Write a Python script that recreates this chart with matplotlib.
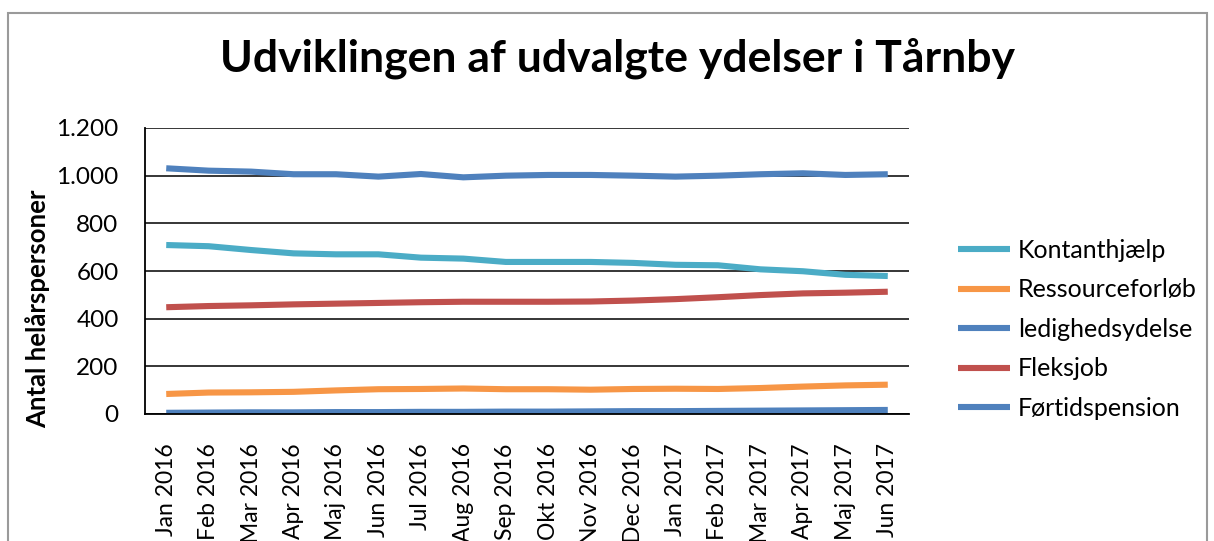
import matplotlib
matplotlib.use("Agg")
import matplotlib.pyplot as plt
from matplotlib.ticker import FuncFormatter, FixedLocator
from matplotlib.patches import Rectangle

plt.rcParams['font.family'] = ['Lato', 'DejaVu Sans']

months = ["Jan 2016", "Feb 2016", "Mar 2016", "Apr 2016", "Maj 2016", "Jun 2016",
          "Jul 2016", "Aug 2016", "Sep 2016", "Okt 2016", "Nov 2016", "Dec 2016",
          "Jan 2017", "Feb 2017", "Mar 2017", "Apr 2017", "Maj 2017", "Jun 2017"]

kontanthjaelp = [709, 704, 688, 674, 670, 670, 656, 652, 638, 638, 638, 634,
                 626, 624, 607, 599, 584, 579]
ressourceforloeb = [84, 90, 91, 93, 99, 104, 105, 107, 104, 104, 102, 105,
                    106, 105, 109, 115, 120, 123]
ledighedsydelse = [5, 6, 7, 7, 8, 8, 9, 9, 10, 10, 11, 12, 12, 13, 14, 15, 16, 17]
fleksjob = [448, 453, 456, 460, 463, 466, 469, 471, 471, 471, 472, 476,
            482, 490, 499, 506, 509, 513]
foertidspension = [1031, 1021, 1017, 1006, 1006, 996, 1007, 993, 1000, 1003,
                   1003, 1000, 996, 1000, 1006, 1010, 1003, 1006]

series = [
    ("Kontanthjælp", kontanthjaelp, "#4BACC6"),
    ("Ressourceforløb", ressourceforloeb, "#F79646"),
    ("ledighedsydelse", ledighedsydelse, "#4F81BD"),
    ("Fleksjob", fleksjob, "#C0504D"),
    ("Førtidspension", foertidspension, "#4F81BD"),
]

W, H = 1214, 541
fig = plt.figure(figsize=(W / 100, H / 100), dpi=100)

# outer chart border (cut off at bottom)
fig.patches.append(Rectangle((8 / W, -0.1), (1207 - 8) / W, 1.1 - 13 / H,
                             transform=fig.transFigure, fill=False,
                             edgecolor="#9a9a9a", linewidth=1.5))

ax = fig.add_axes([145 / W, 127 / H, (909 - 145) / W, (414 - 128) / H])

x = list(range(len(months)))
for name, vals, col in series:
    ax.plot(x, vals, color=col, linewidth=4.4, label=name, solid_capstyle="butt")

ax.set_xlim(-0.5, len(months) - 0.5)
ax.set_ylim(0, 1200)
ax.yaxis.set_major_locator(FixedLocator([0, 200, 400, 600, 800, 1000, 1200]))
ax.yaxis.set_major_formatter(FuncFormatter(lambda v, p: f"{int(v):,}".replace(",", ".")))
ax.set_xticks(x)
ax.set_xticklabels(months, rotation=90, fontsize=16.5)
ax.tick_params(axis="both", length=0)
ax.tick_params(axis="y", labelsize=17.5, pad=19)
ax.tick_params(axis="x", pad=21)
ax.grid(axis="y", color="black", linewidth=1.1)
ax.set_axisbelow(True)
for s in ["top", "right"]:
    ax.spines[s].set_visible(False)
for s in ["left", "bottom"]:
    ax.spines[s].set_color("black")
    ax.spines[s].set_linewidth(1.3)

fig.text(38 / W, 1 - 309 / H, "Antal helårspersoner", rotation=90,
         ha="center", va="center", fontsize=18.5, fontweight="bold")

fig.text(617 / W, 1 - 58 / H, "Udviklingen af udvalgte ydelser i Tårnby",
         ha="center", va="center", fontsize=32, fontweight="bold")

ax.legend(loc="upper left", bbox_to_anchor=(958 / W, 1 - 239 / H),
          bbox_transform=fig.transFigure, frameon=False, fontsize=18,
          handlelength=2.08, handletextpad=0.32, labelspacing=0.66, borderpad=0,
          borderaxespad=0)

fig.savefig("out.png", dpi=100)
